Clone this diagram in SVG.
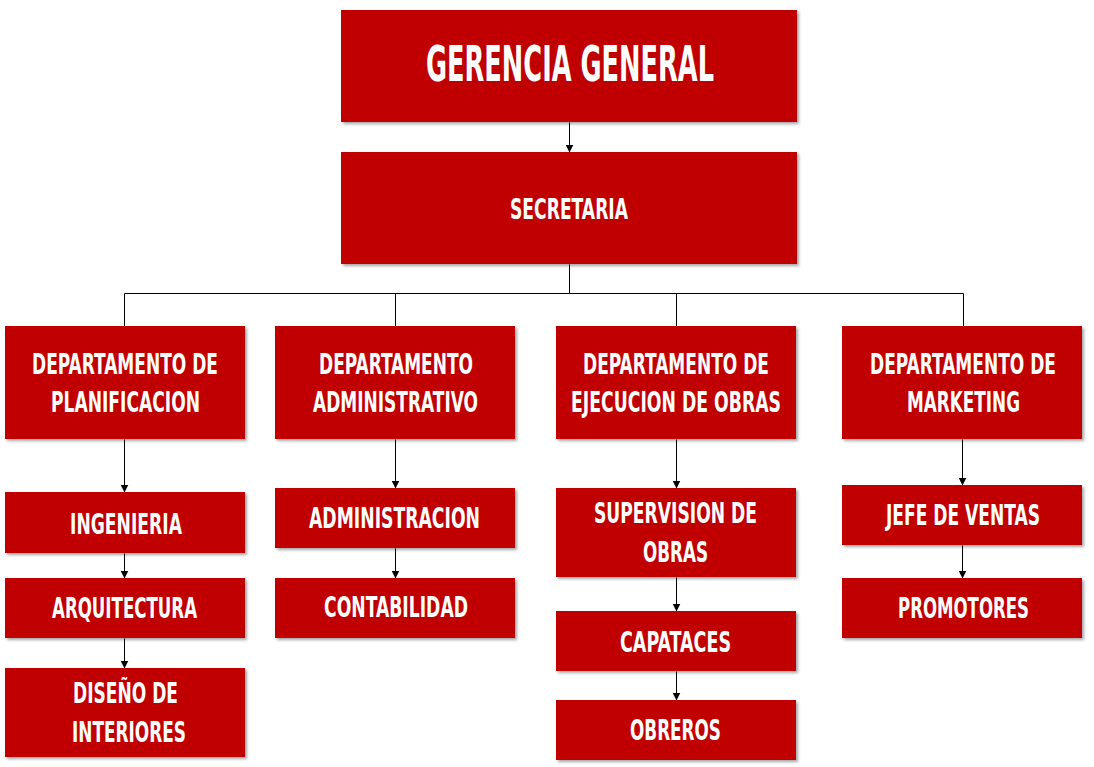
<svg xmlns="http://www.w3.org/2000/svg" width="1094" height="767" viewBox="0 0 1094 767">
<defs>
<filter id="sh" x="-5%" y="-10%" width="115%" height="130%">
<feDropShadow dx="2" dy="2" stdDeviation="1.5" flood-color="#000" flood-opacity="0.35"/>
</filter>
<marker id="ar" viewBox="0 0 10 10" refX="10" refY="5" markerWidth="8" markerHeight="8" markerUnits="userSpaceOnUse" orient="auto">
<path d="M0,0 L10,5 L0,10 z" fill="#000"/>
</marker>
</defs>
<style>
.box{fill:#C00000;filter:url(#sh)}
.t{font-family:"DejaVu Sans Condensed","Liberation Sans",sans-serif;font-weight:bold;fill:#fff;font-size:23px;text-anchor:middle}
.big{font-size:40px}
.c{stroke:#000;stroke-width:1;fill:none}
.a{stroke:#000;stroke-width:1;fill:none;marker-end:url(#ar)}
</style>
<rect width="1094" height="767" fill="#fff"/>
<g id="connectors" transform="translate(0.5,0.5)">
<line class="a" x1="569" y1="122" x2="569" y2="152"/>
<polyline class="c" points="569,264 569,293"/>
<polyline class="c" points="124,326 124,293 963,293 963,326"/>
<line class="c" x1="395" y1="293" x2="395" y2="326"/>
<line class="c" x1="676" y1="293" x2="676" y2="326"/>
<line class="a" x1="124" y1="439" x2="124" y2="492"/>
<line class="a" x1="124" y1="553" x2="124" y2="578"/>
<line class="a" x1="124" y1="638" x2="124" y2="668"/>
<line class="a" x1="395" y1="439" x2="395" y2="488"/>
<line class="a" x1="395" y1="548" x2="395" y2="578"/>
<line class="a" x1="676" y1="439" x2="676" y2="488"/>
<line class="a" x1="676" y1="577" x2="676" y2="611"/>
<line class="a" x1="676" y1="671" x2="676" y2="700"/>
<line class="a" x1="962" y1="439" x2="962" y2="485"/>
<line class="a" x1="962" y1="545" x2="962" y2="578"/>
</g>
<g id="gerencia"><rect class="box" x="341" y="10" width="456" height="112"/><text class="t big" transform="translate(570,81) scale(1,1.23)" textLength="288" lengthAdjust="spacingAndGlyphs">GERENCIA GENERAL</text></g>
<g id="secretaria"><rect class="box" x="341" y="152" width="456" height="112"/><text class="t" transform="translate(569,219) scale(1,1.22)" textLength="118" lengthAdjust="spacingAndGlyphs">SECRETARIA</text></g>
<g id="dep-planificacion"><rect class="box" x="5" y="326" width="240" height="113"/><text class="t" transform="translate(125,374) scale(1,1.22)" textLength="186" lengthAdjust="spacingAndGlyphs">DEPARTAMENTO DE</text><text class="t" transform="translate(125.5,412) scale(1,1.22)" textLength="149" lengthAdjust="spacingAndGlyphs">PLANIFICACION</text></g>
<g id="dep-administrativo"><rect class="box" x="275" y="326" width="240" height="113"/><text class="t" transform="translate(396,374) scale(1,1.22)" textLength="154" lengthAdjust="spacingAndGlyphs">DEPARTAMENTO</text><text class="t" transform="translate(395.5,412) scale(1,1.22)" textLength="165" lengthAdjust="spacingAndGlyphs">ADMINISTRATIVO</text></g>
<g id="dep-ejecucion"><rect class="box" x="556" y="326" width="240" height="113"/><text class="t" transform="translate(676,374) scale(1,1.22)" textLength="186" lengthAdjust="spacingAndGlyphs">DEPARTAMENTO DE</text><text class="t" transform="translate(676,412) scale(1,1.22)" textLength="210" lengthAdjust="spacingAndGlyphs">EJECUCION DE OBRAS</text></g>
<g id="dep-marketing"><rect class="box" x="842" y="326" width="240" height="113"/><text class="t" transform="translate(963,374) scale(1,1.22)" textLength="186" lengthAdjust="spacingAndGlyphs">DEPARTAMENTO DE</text><text class="t" transform="translate(963.5,412) scale(1,1.22)" textLength="113" lengthAdjust="spacingAndGlyphs">MARKETING</text></g>
<g id="ingenieria"><rect class="box" x="5" y="492" width="240" height="61"/><text class="t" transform="translate(126,534) scale(1,1.22)" textLength="112" lengthAdjust="spacingAndGlyphs">INGENIERIA</text></g>
<g id="arquitectura"><rect class="box" x="5" y="578" width="240" height="60"/><text class="t" transform="translate(124.5,618) scale(1,1.22)" textLength="145" lengthAdjust="spacingAndGlyphs">ARQUITECTURA</text></g>
<g id="diseno"><rect class="box" x="5" y="668" width="240" height="89"/><text class="t" transform="translate(125.5,703) scale(1,1.22)" textLength="105" lengthAdjust="spacingAndGlyphs">DISEÑO DE</text><text class="t" transform="translate(129,742) scale(1,1.22)" textLength="114" lengthAdjust="spacingAndGlyphs">INTERIORES</text></g>
<g id="administracion"><rect class="box" x="275" y="488" width="240" height="60"/><text class="t" transform="translate(394.5,528) scale(1,1.22)" textLength="171" lengthAdjust="spacingAndGlyphs">ADMINISTRACION</text></g>
<g id="contabilidad"><rect class="box" x="275" y="578" width="240" height="60"/><text class="t" transform="translate(396,617) scale(1,1.22)" textLength="144" lengthAdjust="spacingAndGlyphs">CONTABILIDAD</text></g>
<g id="supervision"><rect class="box" x="556" y="488" width="240" height="89"/><text class="t" transform="translate(675.5,523) scale(1,1.22)" textLength="163" lengthAdjust="spacingAndGlyphs">SUPERVISION DE</text><text class="t" transform="translate(675.5,562) scale(1,1.22)" textLength="65" lengthAdjust="spacingAndGlyphs">OBRAS</text></g>
<g id="capataces"><rect class="box" x="556" y="611" width="240" height="60"/><text class="t" transform="translate(675.5,652) scale(1,1.22)" textLength="111" lengthAdjust="spacingAndGlyphs">CAPATACES</text></g>
<g id="obreros"><rect class="box" x="556" y="700" width="240" height="60"/><text class="t" transform="translate(675.5,740) scale(1,1.22)" textLength="91" lengthAdjust="spacingAndGlyphs">OBREROS</text></g>
<g id="jefe-ventas"><rect class="box" x="842" y="485" width="240" height="60"/><text class="t" transform="translate(963,525) scale(1,1.22)" textLength="154" lengthAdjust="spacingAndGlyphs">JEFE DE VENTAS</text></g>
<g id="promotores"><rect class="box" x="842" y="578" width="240" height="60"/><text class="t" transform="translate(963.5,618) scale(1,1.22)" textLength="131" lengthAdjust="spacingAndGlyphs">PROMOTORES</text></g>
</svg>
